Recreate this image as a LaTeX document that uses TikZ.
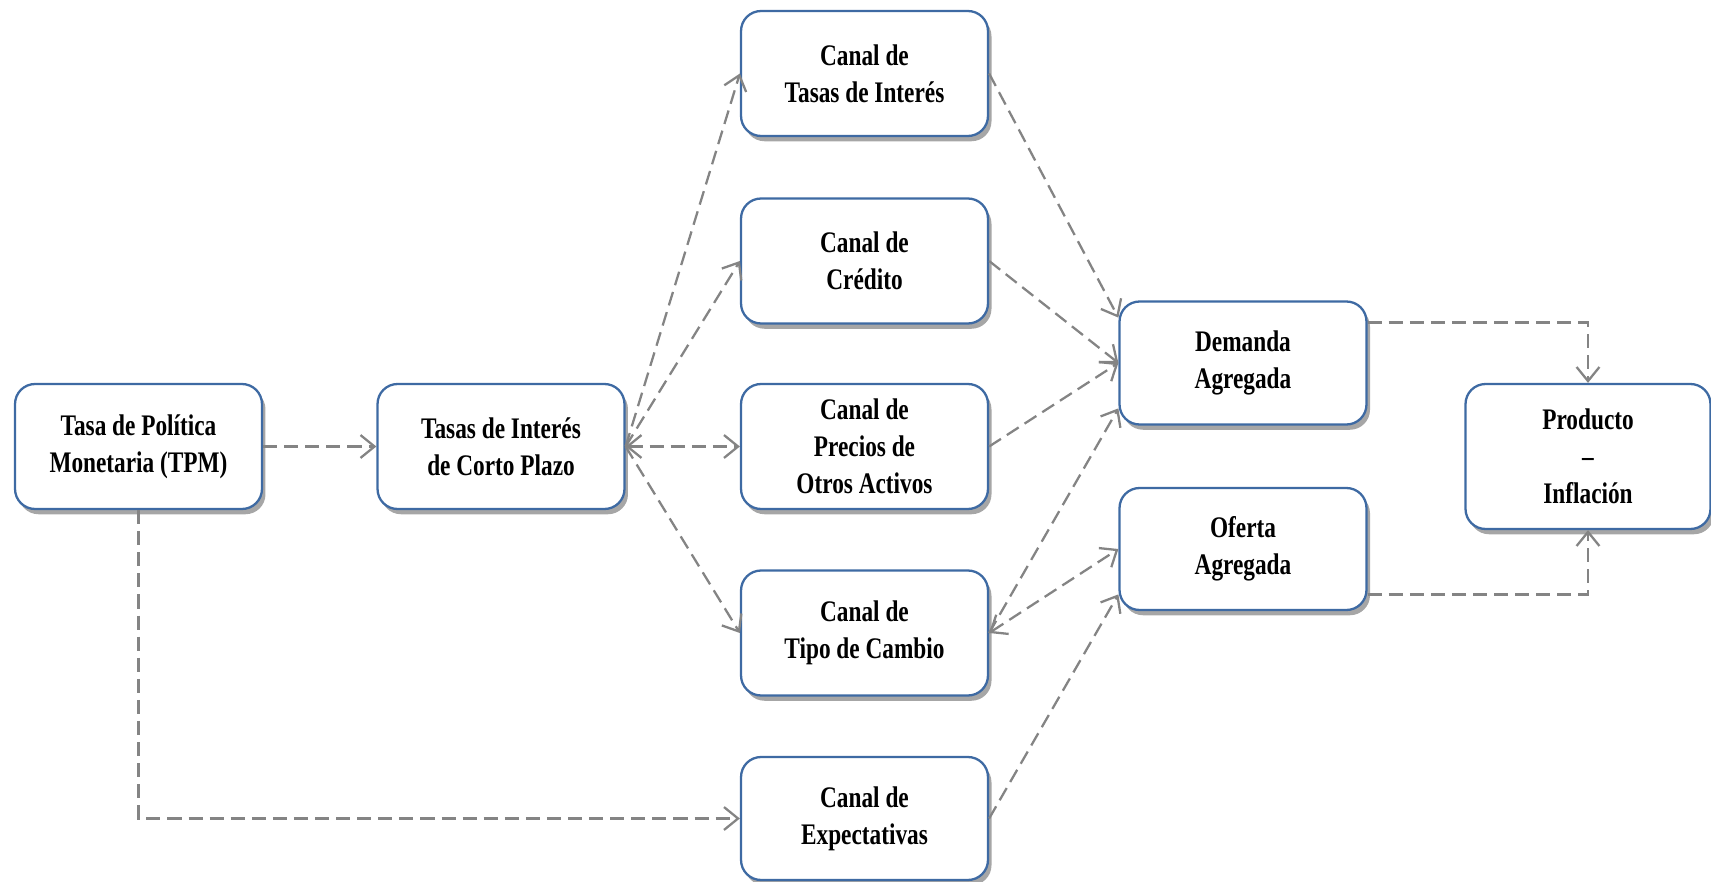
\documentclass[tikz,border=0pt]{standalone}
\usepackage{fontspec}
\newfontfamily\canalfont{Liberation Serif}[FakeStretch=0.78]
\usepackage{tikz}
\usetikzlibrary{arrows.meta,shadows}
\definecolor{boxblue}{RGB}{62,106,163}
\definecolor{linegray}{RGB}{132,132,132}

\begin{document}
\begin{tikzpicture}[
		x=0.02cm, y=-0.02cm,
		>={Straight Barb[length=8pt,width=13pt]},
		box/.style={draw=boxblue, line width=1.3pt, fill=white, rounded corners=0.4cm,
			minimum width=4.94cm, minimum height=2.5cm, inner sep=0pt, align=center,
			font={\canalfont\bfseries\fontsize{17}{21}\selectfont},
			drop shadow={shadow xshift=2pt, shadow yshift=-3pt, fill=black, opacity=0.35}},
		flow/.style={draw=linegray, line width=1.3pt, dash pattern=on 8pt off 4pt, ->}]
		\useasboundingbox (0,0) rectangle (1711,882);
		\node[box] (tpm) at (138.5,446.5) {Tasa de Política\\Monetaria (TPM)};
		\node[box] (tcp) at (501,446.5) {Tasas de Interés\\de Corto Plazo};
		\node[box] (ti) at (864.5,73.5) {Canal de\\Tasas de Interés};
		\node[box] (cr) at (864.5,261) {Canal de\\Crédito};
		\node[box] (pr) at (864.5,446.5) {Canal de\\Precios de\\Otros Activos};
		\node[box] (tc) at (864.5,633) {Canal de\\Tipo de Cambio};
		\node[box, minimum height=2.46cm] (ex) at (864.5,818.5) {Canal de\\Expectativas};
		\node[box, minimum height=2.46cm] (da) at (1243,363) {Demanda\\Agregada};
		\node[box, minimum height=2.44cm] (oa) at (1243,549) {Oferta\\Agregada};
		\node[box, minimum width=4.9cm, minimum height=2.9cm] (pi) at (1588,456.5) {Producto\\–\\Inflación};
		\draw[flow] (tpm) to (tcp);
		\draw[flow] (tcp.east) to (ti.west);
		\draw[flow] (tcp.east) to (cr.west);
		\draw[flow, <->] (tcp.east) to (pr.west);
		\draw[flow] (tcp.east) to (tc.west);
		\draw[flow] (tpm.south) |- (ex.west);
		\draw[flow] (ti.east) to (da.160);
		\draw[flow] (cr.east) to (da.west);
		\draw[flow] (pr.east) to (da.west);
		\draw[flow] (tc.east) to (da.200);
		\draw[flow, <->] (tc.east) to (oa.west);
		\draw[flow] (ex.east) to (oa.200);
		\draw[flow] (da.18) -| (pi.north);
		\draw[flow] (oa.340) -| (pi.south);
\end{tikzpicture}
\end{document}
